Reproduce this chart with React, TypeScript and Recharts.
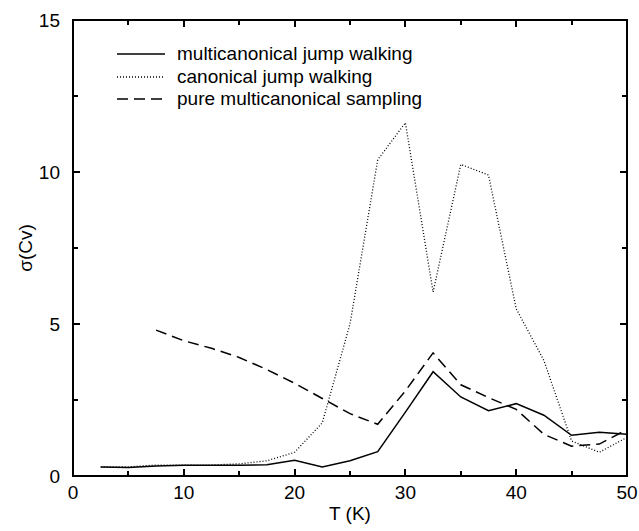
import { FC } from "react";
import { Label, Legend, Line, LineChart, XAxis, YAxis } from "recharts";

const temps = [
  2.5, 5, 7.5, 10, 12.5, 15, 17.5, 20, 22.5, 25, 27.5, 30, 32.5, 35, 37.5, 40,
  42.5, 45, 47.5, 50,
];
const multiJump = [
  0.3, 0.28, 0.33, 0.35, 0.35, 0.35, 0.37, 0.52, 0.3, 0.5, 0.8, 2.1, 3.43, 2.6,
  2.15, 2.38, 2.0, 1.34, 1.44, 1.37,
];
const canonJump = [
  0.3, 0.3, 0.36, 0.36, 0.36, 0.4, 0.5, 0.78, 1.75, 5.0, 10.4, 11.62, 6.05,
  10.25, 9.9, 5.5, 3.8, 1.15, 0.78, 1.27,
];
const pureMulti = [
  null, null, 4.8, 4.45, 4.2, 3.9, 3.5, 3.05, 2.55, 2.05, 1.7, 2.8, 4.05, 3.0,
  2.58, 2.19, 1.37, 0.98, 1.05, 1.53,
];
const seriesNames = [
  "multicanonical jump walking",
  "canonical jump walking",
  "pure multicanonical sampling",
];
const xTicks = [0, 5, 10, 15, 20, 25, 30, 35, 40, 45, 50];
const yTicks = [0, 2.5, 5, 7.5, 10, 12.5, 15];

const data = temps.map((T, i) => ({
  T,
  multi: multiJump[i],
  canon: canonJump[i],
  pure: pureMulti[i],
}));

const FONT = "'Liberation Sans', Arial, Helvetica, sans-serif";
const FS = 19;
const AX = 2;

// plot box, set by the chart margins and axis sizes below
const W = 639;
const H = 531;
const M = { top: 20, right: 12, left: 0, bottom: 0 };
const Y_W = 73;
const X_H = 55;
const PL = M.left + Y_W;
const PT = M.top;
const PW = W - PL - M.right;
const PH = H - PT - M.bottom - X_H;

const BottomLabel = (p: any) =>
  p.payload.value % 10 === 0 ? (
    <text x={p.x} y={p.y + 23} textAnchor="middle" fontSize={FS} fontFamily={FONT} fill="#000">
      {p.payload.value}
    </text>
  ) : (
    <g />
  );

const LeftLabel = (p: any) =>
  p.payload.value % 5 === 0 ? (
    <text x={p.x - 13} y={p.y + 7} textAnchor="end" fontSize={FS} fontFamily={FONT} fill="#000">
      {p.payload.value}
    </text>
  ) : (
    <g />
  );

const LegendBox = (props: any) => {
  const items = [...props.payload]
    .filter((e: any) => seriesNames.includes(e.value))
    .sort((a: any, b: any) => seriesNames.indexOf(a.value) - seriesNames.indexOf(b.value));
  return (
    <div style={{ fontFamily: FONT, fontSize: FS, color: "#000" }}>
      {items.map((e: any) => (
        <div key={e.value} style={{ display: "flex", alignItems: "center", height: 22.5, whiteSpace: "nowrap" }}>
          <svg width={48} height={6} style={{ marginRight: 12 }}>
            <line
              x1={0}
              x2={48}
              y1={3}
              y2={3}
              stroke="#000"
              strokeWidth={e.payload.strokeWidth}
              strokeDasharray={e.payload.strokeDasharray}
            />
          </svg>
          <span>{e.value}</span>
        </div>
      ))}
    </div>
  );
};

// box round the plot with inward ticks on all four sides
const Frame: FC = () => {
  const tick = (style: any, k: string) => (
    <div key={k} style={{ position: "absolute", background: "#000", ...style }} />
  );
  return (
    <div
      style={{
        position: "absolute",
        left: PL - AX / 2,
        top: PT - AX / 2,
        width: PW + AX,
        height: PH + AX,
        border: `${AX}px solid #000`,
        boxSizing: "border-box",
        pointerEvents: "none",
        zIndex: 10,
      }}
    >
      {xTicks.map((v) => {
        const len = v % 10 === 0 ? 6 : 4;
        const left = (v / 50) * PW - AX;
        return [
          tick({ left, top: 0, width: AX, height: len }, `t${v}`),
          tick({ left, bottom: 0, width: AX, height: len }, `b${v}`),
        ];
      })}
      {yTicks.map((v) => {
        const len = v % 5 === 0 ? 6 : 4;
        const top = (1 - v / 15) * PH - AX;
        return [
          tick({ top, left: 0, height: AX, width: len }, `l${v}`),
          tick({ top, right: 0, height: AX, width: len }, `r${v}`),
        ];
      })}
    </div>
  );
};

const App: FC = () => {
  return (
    <div style={{ position: "absolute", left: 0, top: 0, width: W, height: H, background: "#fff" }}>
      <LineChart width={W} height={H} data={data} margin={M}>
        <XAxis
          dataKey="T"
          type="number"
          domain={[0, 50]}
          ticks={xTicks}
          interval={0}
          tickSize={0}
          tickMargin={0}
          tick={BottomLabel}
          height={X_H}
          stroke="#000"
          strokeWidth={AX}
          allowDataOverflow
        >
          <Label
            content={(lp: any) => (
              <text
                x={lp.viewBox.x + lp.viewBox.width / 2}
                y={lp.viewBox.y + 44}
                textAnchor="middle"
                fontSize={FS}
                fontFamily={FONT}
                fill="#000"
              >
                T (K)
              </text>
            )}
          />
        </XAxis>
        <YAxis
          type="number"
          domain={[0, 15]}
          ticks={yTicks}
          interval={0}
          tickSize={0}
          tickMargin={0}
          tick={LeftLabel}
          width={Y_W}
          stroke="#000"
          strokeWidth={AX}
          allowDataOverflow
        >
          <Label
            content={(lp: any) => {
              const cx = lp.viewBox.x + 25;
              const cy = lp.viewBox.y + lp.viewBox.height / 2;
              return (
                <text
                  x={cx}
                  y={cy}
                  transform={`rotate(-90 ${cx} ${cy})`}
                  textAnchor="middle"
                  dominantBaseline="central"
                  fontSize={FS}
                  fontFamily={FONT}
                  fill="#000"
                >
                  σ(Cv)
                </text>
              );
            }}
          />
        </YAxis>
        <Legend
          layout="horizontal"
          align="center"
          verticalAlign="middle"
          content={LegendBox}
          wrapperStyle={{ top: 43, left: 117, width: "auto" }}
        />
        <Line
          dataKey="multi"
          name={seriesNames[0]}
          stroke="#000"
          strokeWidth={1.5}
          dot={false}
          isAnimationActive={false}
        />
        <Line
          dataKey="canon"
          name={seriesNames[1]}
          stroke="#000"
          strokeWidth={1.3}
          strokeDasharray="1 2"
          dot={false}
          isAnimationActive={false}
        />
        <Line
          dataKey="pure"
          name={seriesNames[2]}
          stroke="#000"
          strokeWidth={1.5}
          strokeDasharray="11 6"
          dot={false}
          isAnimationActive={false}
        />
      </LineChart>
      <Frame />
    </div>
  );
};

export default App;
